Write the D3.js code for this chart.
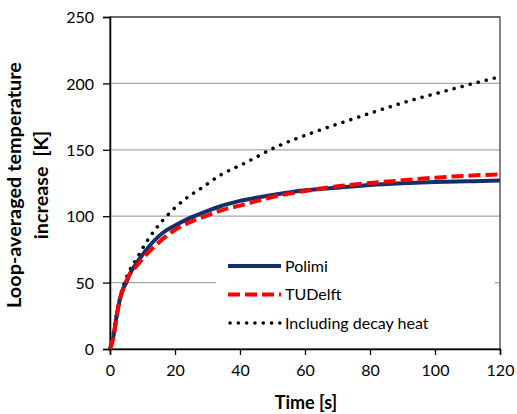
<!DOCTYPE html>
<html>
<head>
<meta charset="utf-8">
<script src="https://cdn.jsdelivr.net/npm/d3@7"></script>
<style>
  body { margin: 0; background: #fff; }
  svg text { font-family: Lato, "Open Sans", sans-serif; fill: #000; white-space: pre; }
</style>
</head>
<body>
<div id="chart"></div>
<script>
// values
var polimiTime = [0, 1, 2, 3, 4, 5, 6, 8, 10, 13, 16, 20, 24, 29, 34, 40, 50, 60, 70, 80, 90, 100, 110, 120];
var polimiTemp = [0, 9, 24, 37, 45, 50, 56, 64, 71, 80, 87, 93, 98, 103, 107.5, 111.5, 116, 119.5, 121.5, 123.5, 124.8, 125.7, 126.3, 126.8];

var tudelftTime = [0, 1, 2, 3, 4, 5, 6, 8, 10, 14, 19, 24, 29, 35, 40, 50, 60, 70, 80, 90, 100, 110, 120];
var tudelftTemp = [0, 8, 24, 37, 45, 51, 56, 62, 68, 78, 88, 95, 99.6, 105, 108, 114.5, 119, 122.5, 125, 127, 129, 130.5, 131.5];

var decayTime = [0, 0.5, 1, 2, 3, 4.6, 6, 8.2, 10.8, 13.8, 19, 23, 28, 34, 41.5, 51, 63.6, 72, 81.5, 92.3, 102.5, 110.8, 120];
var decayTemp = [0, 6, 12, 26, 38, 51, 59, 68, 79, 89.6, 104, 112.7, 121, 131, 140, 152, 164, 171, 178.7, 187, 193.8, 199.3, 205];

var xTicks = [0, 20, 40, 60, 80, 100, 120];
var yTicks = [0, 50, 100, 150, 200, 250];
var legendNames = ["Polimi", "TUDelft", "Including decay heat"];

var width = 517, height = 414;
var plotLeft = 110, plotRight = 500, plotTop = 17, plotBottom = 349;

var svg = d3.select("#chart").append("svg")
    .attr("width", width)
    .attr("height", height);

var x = d3.scaleLinear().domain([0, 120]).range([plotLeft, plotRight]);
var y = d3.scaleLinear().domain([0, 250]).range([plotBottom, plotTop]);

// gridlines
svg.append("g")
    .selectAll("line")
    .data(yTicks.filter(function(d){ return d > 0; }))
    .enter()
    .append("line")
    .attr("x1", plotLeft).attr("x2", plotRight)
    .attr("y1", function(d){ return y(d); })
    .attr("y2", function(d){ return y(d); })
    .style("stroke", "#a6a6a6")
    .style("stroke-width", 1.3);

// plot area border
svg.append("rect")
    .attr("x", plotLeft).attr("y", plotTop)
    .attr("width", plotRight - plotLeft).attr("height", plotBottom - plotTop)
    .style("fill", "none")
    .style("stroke", "#404040")
    .style("stroke-width", 1.3);

var xAxis = svg.append("g")
    .attr("transform", "translate(0," + plotBottom + ")")
    .call(d3.axisBottom(x).tickValues(xTicks).tickSizeOuter(0).tickSize(6).tickPadding(10));
var yAxis = svg.append("g")
    .attr("transform", "translate(" + plotLeft + ",0)")
    .call(d3.axisLeft(y).tickValues(yTicks).tickSizeOuter(0).tickSize(7).tickPadding(9));

[xAxis, yAxis].forEach(function(ax){
    ax.select(".domain").style("stroke", "#000").style("stroke-width", 1.5);
    ax.selectAll(".tick line").style("stroke", "#000").style("stroke-width", 1.3);
    ax.selectAll("text").style("font-size", "16px").style("font-family", "Lato, sans-serif").attr("fill", "#000");
});
yAxis.selectAll("text").attr("dy", "0.36em");

// legend box (covers the gridline)
svg.append("rect")
    .attr("x", 216).attr("y", 240)
    .attr("width", 279).attr("height", 100)
    .style("fill", "#fff");

var line = d3.line()
    .x(function(d){ return x(d[0]); })
    .y(function(d){ return y(d[1]); })
    .curve(d3.curveMonotoneX);

function pairs(ts, vs){
    return ts.map(function(t, i){ return [t, vs[i]]; });
}

var series = [
    {data: pairs(decayTime, decayTemp), color: "#000", width: 3.5, dash: "0.1 8.2", cap: "round"},
    {data: pairs(polimiTime, polimiTemp), color: "#14306b", width: 4, dash: null, cap: "butt"},
    {data: pairs(tudelftTime, tudelftTemp), color: "#ff0000", width: 4, dash: "12 5", cap: "butt"}
];

series.forEach(function(s){
    svg.append("path")
        .datum(s.data)
        .attr("d", line)
        .style("fill", "none")
        .style("stroke", s.color)
        .style("stroke-width", s.width)
        .style("stroke-linecap", s.cap)
        .style("stroke-dasharray", s.dash);
});

// legend
var legendStyle = [
    {color: "#14306b", width: 4, dash: null, cap: "butt"},
    {color: "#ff0000", width: 4, dash: "12 5", cap: "butt"},
    {color: "#000", width: 3.5, dash: "0.1 8.2", cap: "round"}
];
var legendY = [266, 294.5, 323];
legendNames.forEach(function(name, i){
    var st = legendStyle[i];
    svg.append("line")
        .attr("x1", i == 2 ? 230 : 228).attr("x2", 281)
        .attr("y1", legendY[i]).attr("y2", legendY[i])
        .style("stroke", st.color)
        .style("stroke-width", st.width)
        .style("stroke-linecap", st.cap)
        .style("stroke-dasharray", st.dash);
    svg.append("text")
        .attr("x", 285)
        .attr("y", legendY[i])
        .attr("dy", "0.35em")
        .style("font-size", "16px")
        .text(name);
});

// axis titles
svg.append("text")
    .attr("x", (plotLeft + plotRight) / 2 + 1)
    .attr("y", 409)
    .attr("text-anchor", "middle")
    .style("font-size", "18px")
    .style("font-weight", "bold")
    .text("Time [s]");

var yTitle = svg.append("text")
    .attr("transform", "translate(0,185) rotate(-90)")
    .attr("text-anchor", "middle")
    .style("font-size", "18px")
    .style("font-weight", "bold");
var line1 = yTitle.append("tspan").attr("x", 0).attr("y", 21).text("Loop-averaged temperature");
yTitle.append("tspan").attr("x", 0).attr("y", 48).text("increase  [K]");
// scale title so first line spans like the reference
var len = line1.node().getComputedTextLength();
yTitle.style("font-size", (18 * 246 / len).toFixed(2) + "px");
</script>
</body>
</html>
